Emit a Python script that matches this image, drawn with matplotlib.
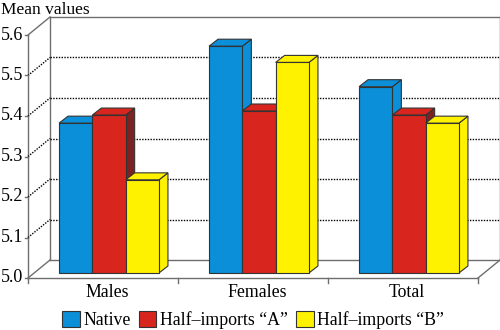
import matplotlib.pyplot as plt
from matplotlib.patches import Polygon, Patch
import numpy as np

plt.rcParams['font.family'] = ['Liberation Serif', 'DejaVu Serif']

# mean values per group
groups = ["Males", "Females", "Total"]
native = [5.37, 5.56, 5.46]
half_a = [5.39, 5.40, 5.39]
half_b = [5.23, 5.52, 5.37]
series_names = ["Native", "Half\u2013imports \u201cA\u201d", "Half\u2013imports \u201cB\u201d"]
yticks = [5.0, 5.1, 5.2, 5.3, 5.4, 5.5, 5.6]

front_cols = ["#0a8fd8", "#d8261e", "#fff200"]
side_cols = ["#0a8fd8", "#7b2323", "#fff200"]
edge = "#333333"
wall = "#6e6e6e"

W, H = 500, 330
fig = plt.figure(figsize=(W / 100, H / 100), dpi=100)
ax = fig.add_axes([28 / W, 52 / H, 450 / W, 243 / H])
ax.set_xlim(0, 3)
ax.set_ylim(5.0, 5.6)
ax.axis('off')

# data units per pixel, used for the fake depth
px = 3 / 450
py = 0.6 / 243
BACK = (22, 18)
BAR_FRONT = (6, 5)
BAR_BACK = (15, 12)


def sh(x, y, d):
    return (x + d[0] * px, y + d[1] * py)


def line(p, q, **kw):
    ax.plot([p[0], q[0]], [p[1], q[1]], clip_on=False, **kw)


# walls and floor
solid = dict(color=wall, lw=1.0, zorder=1)
line(sh(0, 5.0, BACK), sh(3, 5.0, BACK), **solid)
line(sh(0, 5.6, BACK), sh(3, 5.6, BACK), **solid)
line(sh(0, 5.0, BACK), sh(0, 5.6, BACK), **solid)
line(sh(3, 5.0, BACK), sh(3, 5.6, BACK), **solid)
line((0, 5.0), (3, 5.0), **solid)
line((0, 5.0), (0, 5.6), **solid)
line((0, 5.6), sh(0, 5.6, BACK), **solid)
line((0, 5.0), sh(0, 5.0, BACK), **solid)
line((3, 5.0), sh(3, 5.0, BACK), **solid)

dotted = dict(color="black", lw=1.0, ls=(0, (1, 1)), zorder=1)
for v in yticks[1:-1]:
    line(sh(0, v, BACK), sh(3, v, BACK), **dotted)
    line((0, v), sh(0, v, BACK), **dotted)

for v in yticks:
    line((-3 * px, v), (0, v), **solid)
    ax.text(-5 * px, v, f"{v:.1f}", ha='right', va='center', fontsize=13)

for i in range(4):
    line((i, 5.0), (i, 5.0 - 5 * py), **solid)

# bars
w = 0.222
values = [native, half_a, half_b]
z = 3
for i in range(len(groups)):
    for j in range(3):
        x0 = i + 0.5 - 1.5 * w + j * w
        x1 = x0 + w
        v = values[j][i]
        f = [sh(x0, 5.0, BAR_FRONT), sh(x1, 5.0, BAR_FRONT),
             sh(x1, v, BAR_FRONT), sh(x0, v, BAR_FRONT)]
        side = [sh(x1, 5.0, BAR_FRONT), sh(x1, 5.0, BAR_BACK),
                sh(x1, v, BAR_BACK), sh(x1, v, BAR_FRONT)]
        top = [sh(x0, v, BAR_FRONT), sh(x1, v, BAR_FRONT),
               sh(x1, v, BAR_BACK), sh(x0, v, BAR_BACK)]
        for verts, col in ((side, side_cols[j]), (top, front_cols[j]), (f, front_cols[j])):
            ax.add_patch(Polygon(verts, closed=True, facecolor=col, edgecolor=edge,
                                 lw=0.8, zorder=z, clip_on=False))
            z += 1
    ax.text(i + 0.5 + 4 * px, 5.0 - 15 * py, groups[i], ha='center', va='center',
            fontsize=12.8)

fig.text(0.002, 1 - 10 / H, "Mean values", ha='left', va='center', fontsize=12.5)

handles = [Patch(facecolor=c, edgecolor=edge, lw=0.8) for c in front_cols]
fig.legend(handles, series_names, loc='center', bbox_to_anchor=(253 / W, 10 / H),
           ncol=3, frameon=False, fontsize=12.8, handlelength=1.0, handleheight=1.0,
           handletextpad=0.2, columnspacing=0.45, borderpad=0)

fig.savefig("out.png", dpi=100)
